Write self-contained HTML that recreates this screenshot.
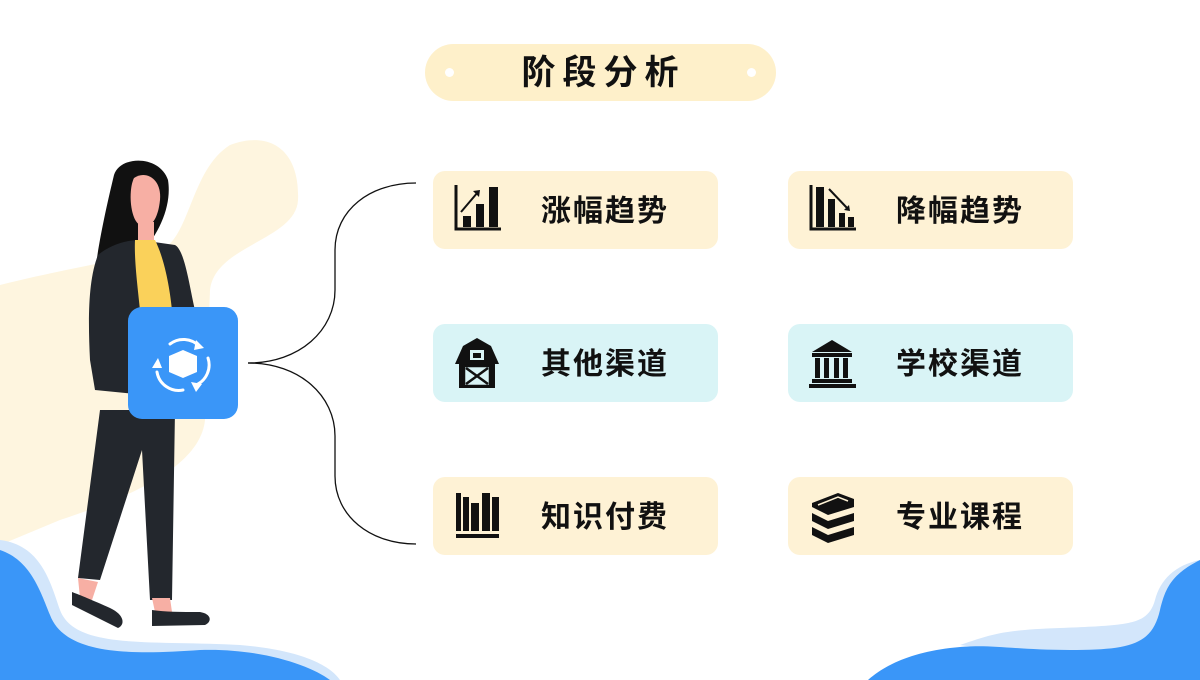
<!DOCTYPE html>
<html><head><meta charset="utf-8"><style>
html,body{margin:0;padding:0;background:#fff;}
body{width:1200px;height:680px;position:relative;overflow:hidden;font-family:"Liberation Sans","Noto Sans CJK SC",sans-serif;}
.t{position:absolute;font-weight:bold;color:#111;}
.box{position:absolute;width:285px;height:78px;border-radius:12px;}
.y{background:#FEF2D5;}
.c{background:#D9F4F6;}
.lbl{position:absolute;left:108px;top:2px;line-height:78px;font-size:30px;font-weight:bold;color:#111;letter-spacing:2px;}
.ic{position:absolute;left:20px;top:14px;width:52px;height:52px;}
</style></head><body>
<svg width="1200" height="680" style="position:absolute;left:0;top:0">
  <path d="M0 285 C60 270 120 260 160 250 C190 240 190 170 230 145 C270 130 300 150 298 200 C296 240 215 245 210 290 L205 420 C200 470 120 500 60 520 L0 545 Z" fill="#FEF5DF"/>
  <path d="M0 540 C40 545 50 580 60 610 C75 650 150 640 240 645 C300 650 330 665 340 680 L0 680 Z" fill="#D3E6FB"/>
  <path d="M0 550 C30 560 40 590 50 615 C65 655 130 655 200 650 C260 648 310 665 330 680 L0 680 Z" fill="#3A96F8"/>
  <path d="M1200 560 C1175 565 1160 580 1155 600 C1148 625 1130 625 1060 628 C1000 630 990 635 960 645 L1200 680 Z" fill="#D3E6FB"/>
  <path d="M1200 560 C1170 575 1165 590 1160 610 C1152 645 1130 650 1070 650 C1010 650 990 643 950 648 C910 653 885 665 868 680 L1200 680 Z" fill="#3A96F8"/>
  <path d="M248 363 C300 363 335 330 335 290 L335 250 C335 210 370 183 416 183" fill="none" stroke="#111" stroke-width="1.3"/>
  <path d="M248 363 C300 363 335 396 335 436 L335 476 C335 516 370 544 416 544" fill="none" stroke="#111" stroke-width="1.3"/>
  <path d="M114 175 C120 155 160 155 168 180 C172 205 160 235 135 260 C120 275 100 300 96 265 C100 235 108 200 114 175Z" fill="#111"/>
  <path d="M134 178 C145 170 162 178 160 200 C158 220 150 230 140 225 C130 220 128 190 134 178Z" fill="#F7AFA4"/>
  <rect x="138" y="222" width="16" height="22" fill="#F7AFA4"/>
  <path d="M98 255 C110 245 125 240 140 240 L175 245 C185 250 190 290 195 310 L198 400 L95 390 L90 360 C88 320 88 280 98 255Z" fill="#23272D"/>
  <path d="M135 240 L155 240 C165 260 170 290 172 310 L140 310 C138 290 134 260 135 240Z" fill="#FAD15A"/>
  <path d="M100 410 L175 410 L172 600 L150 600 L142 450 L100 580 L78 578 Z" fill="#23272D"/>
  <path d="M78 578 L98 582 L92 600 L80 598Z" fill="#F7AFA4"/>
  <path d="M152 598 L170 598 L172 612 L155 612Z" fill="#F7AFA4"/>
  <path d="M72 592 C80 595 92 600 110 608 C125 615 125 625 118 628 L72 605 Z" fill="#23272D"/>
  <path d="M152 610 C165 612 180 612 200 612 C212 614 212 622 205 625 L152 626 Z" fill="#23272D"/>
  <path d="M135 322 C145 318 160 318 165 325 C165 333 150 338 138 335Z" fill="#F7AFA4"/>
  <rect x="128" y="307" width="110" height="112" rx="14" fill="#3A96F8"/>
  <g fill="none" stroke="#fff" stroke-width="3" stroke-linecap="round">
    <path d="M170 344 A22 22 0 0 1 199 346"/>
    <path d="M208 358 A22 22 0 0 1 196 385"/>
    <path d="M183 390 A22 22 0 0 1 157 372"/>
  </g>
  <g fill="#fff">
    <path d="M196 340 L204 348 L194 350Z"/><path d="M191 382 L196 392 L202 384Z"/><path d="M152 368 L162 368 L158 358Z"/>
    <path d="M183 350 L197 356 L197 372 L183 378 L169 372 L169 356Z"/>
  </g>
</svg>

<div style="position:absolute;left:425px;top:44px;width:351px;height:57px;border-radius:29px;background:#FEF0CA;"></div>
<div style="position:absolute;left:445px;top:68px;width:9px;height:9px;border-radius:50%;background:#fff"></div>
<div style="position:absolute;left:747px;top:68px;width:9px;height:9px;border-radius:50%;background:#fff"></div>
<div class="t" style="left:428px;width:351px;top:45px;line-height:57px;text-align:center;font-size:34px;letter-spacing:7px;">阶段分析</div>

<div class="box y" style="left:433px;top:171px">
  <svg class="ic" viewBox="0 0 52 52"><path d="M3 0 V44 H48" fill="none" stroke="#111" stroke-width="3"/><rect x="10" y="31" width="8" height="11" fill="#111"/><rect x="23" y="19" width="8" height="23" fill="#111"/><rect x="36" y="2" width="9" height="40" fill="#111"/><path d="M8 27 L25 7" stroke="#111" stroke-width="2"/><path d="M20 6 L27 5 L26 12Z" fill="#111"/></svg>
  <div class="lbl">涨幅趋势</div>
</div>
<div class="box y" style="left:788px;top:171px">
  <svg class="ic" viewBox="0 0 52 52"><path d="M3 0 V44 H48" fill="none" stroke="#111" stroke-width="3"/><rect x="8" y="2" width="8" height="40" fill="#111"/><rect x="20" y="14" width="7" height="28" fill="#111"/><rect x="31" y="28" width="6" height="14" fill="#111"/><rect x="40" y="32" width="6" height="10" fill="#111"/><path d="M21 4 L40 24" stroke="#111" stroke-width="2"/><path d="M36 25 L42 26 L41 20Z" fill="#111"/></svg>
  <div class="lbl">降幅趋势</div>
</div>
<div class="box c" style="left:433px;top:324px">
  <svg class="ic" viewBox="0 0 52 52"><path d="M2 26 L10 8 L24 0 L38 8 L46 26 L42 26 L42 50 L6 50 L6 26Z" fill="#111"/><rect x="17" y="12" width="14" height="10" fill="#D9F4F6"/><rect x="20" y="15" width="8" height="5" fill="#111"/><rect x="11" y="28" width="26" height="20" fill="#D9F4F6"/><path d="M13 30 L35 46 M35 30 L13 46" stroke="#111" stroke-width="2.5"/><rect x="11" y="28" width="26" height="20" fill="none" stroke="#111" stroke-width="2.5"/></svg>
  <div class="lbl">其他渠道</div>
</div>
<div class="box c" style="left:788px;top:324px">
  <svg class="ic" viewBox="0 0 52 52"><path d="M24 2 L44 14 L4 14Z" fill="#111"/><rect x="4" y="15" width="40" height="4" fill="#111"/><rect x="7" y="20" width="5" height="20" fill="#111"/><rect x="16" y="20" width="5" height="20" fill="#111"/><rect x="26" y="20" width="5" height="20" fill="#111"/><rect x="35" y="20" width="5" height="20" fill="#111"/><rect x="4" y="41" width="40" height="4" fill="#111"/><rect x="1" y="46" width="47" height="4" fill="#111"/></svg>
  <div class="lbl">学校渠道</div>
</div>
<div class="box y" style="left:433px;top:477px">
  <svg class="ic" viewBox="0 0 52 52"><rect x="3" y="2" width="5" height="38" fill="#111"/><rect x="10" y="6" width="6" height="34" fill="#111"/><rect x="18" y="12" width="8" height="28" fill="#111"/><rect x="29" y="2" width="8" height="38" fill="#111"/><rect x="39" y="6" width="7" height="34" fill="#111"/><rect x="3" y="43" width="43" height="4" fill="#111"/></svg>
  <div class="lbl">知识付费</div>
</div>
<div class="box y" style="left:788px;top:477px">
  <svg class="ic" viewBox="0 0 52 52"><path d="M4 12 L30 2 L46 8 L46 16 L20 24 L4 16Z" fill="#111"/><path d="M4 22 L20 30 L46 22 L46 30 L20 38 L4 30Z" fill="#111"/><path d="M4 36 L20 44 L46 36 L46 44 L20 52 L4 44Z" fill="#111"/><path d="M10 14 L30 6 L40 10" stroke="#FEF2D5" stroke-width="1.5" fill="none"/></svg>
  <div class="lbl">专业课程</div>
</div>
</body></html>
